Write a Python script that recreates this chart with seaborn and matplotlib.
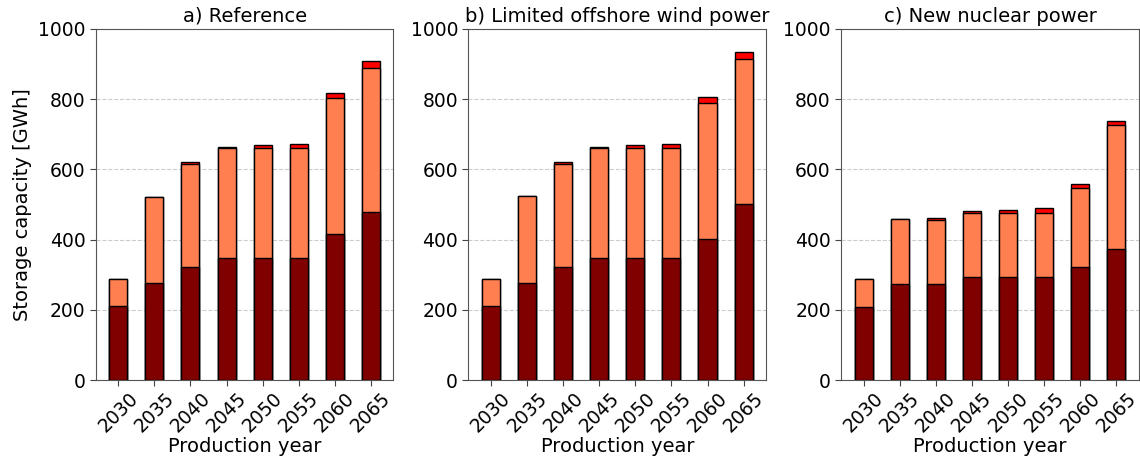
import pandas as pd
import matplotlib
matplotlib.use("Agg")
import matplotlib.pyplot as plt
import seaborn as sns

years = ["2030", "2035", "2040", "2045", "2050", "2055", "2060", "2065"]
titles = ["a) Reference", "b) Limited offshore wind power", "c) New nuclear power"]

# storage capacity [GWh] per scenario, three stacked components
ref_dark = [211, 276, 323, 347, 347, 347, 417, 480]
ref_orange = [78, 246, 293, 313, 313, 313, 386, 408]
ref_red = [0, 0, 5, 5, 10, 12, 15, 20]

wind_dark = [211, 276, 323, 347, 347, 347, 403, 500]
wind_orange = [78, 249, 293, 313, 313, 313, 387, 414]
wind_red = [0, 0, 5, 5, 10, 13, 15, 20]

nuc_dark = [209, 273, 273, 294, 294, 294, 321, 372]
nuc_orange = [78, 185, 184, 183, 183, 183, 226, 355]
nuc_red = [0, 0, 5, 5, 8, 12, 10, 11]

scenarios = [
    (ref_dark, ref_orange, ref_red),
    (wind_dark, wind_orange, wind_red),
    (nuc_dark, nuc_orange, nuc_red),
]
colors = ["#800000", "#FF7F50", "#FF0000"]

sns.set_style("ticks")
plt.rcParams["font.family"] = ["DejaVu Sans"]
plt.rcParams["text.color"] = "black"
plt.rcParams["axes.labelcolor"] = "black"
plt.rcParams["xtick.color"] = "#444444"
plt.rcParams["ytick.color"] = "#444444"
plt.rcParams["xtick.labelcolor"] = "black"
plt.rcParams["ytick.labelcolor"] = "black"

fig, axes = plt.subplots(1, 3, figsize=(11.4, 4.59), dpi=100)
fig.subplots_adjust(left=0.084, right=0.999, top=0.937, bottom=0.172, wspace=0.252)

for ax, title, (dark, orange, red) in zip(axes, titles, scenarios):
    df = pd.DataFrame({"year": years, "dark": dark, "orange": orange, "red": red})
    df["lvl1"] = df["dark"]
    df["lvl2"] = df["dark"] + df["orange"]
    df["lvl3"] = df["lvl2"] + df["red"]
    # draw cumulative totals from largest to smallest so they stack visually
    for col, c in zip(["lvl3", "lvl2", "lvl1"], colors[::-1]):
        sns.barplot(data=df, x="year", y=col, color=c, width=0.5,
                    edgecolor="black", linewidth=1, saturation=1, ax=ax, zorder=3)
    ax.set_xlim(-0.625, 7.625)
    ax.set_ylim(0, 1000)
    ax.set_yticks([0, 200, 400, 600, 800, 1000])
    ax.grid(axis="y", linestyle="--", color="#cccccc", linewidth=0.8, zorder=0)
    ax.set_axisbelow(True)
    ax.set_title(title, fontsize=14, pad=5)
    ax.set_xlabel("Production year", fontsize=14, labelpad=1)
    ax.set_ylabel("")
    ax.tick_params(axis="both", labelsize=13.5, length=4)
    ax.tick_params(axis="x", rotation=45, pad=2)
    for s in ax.spines.values():
        s.set_color("#555555")

axes[0].set_ylabel("Storage capacity [GWh]", fontsize=14)

plt.savefig("out.png", dpi=100)
